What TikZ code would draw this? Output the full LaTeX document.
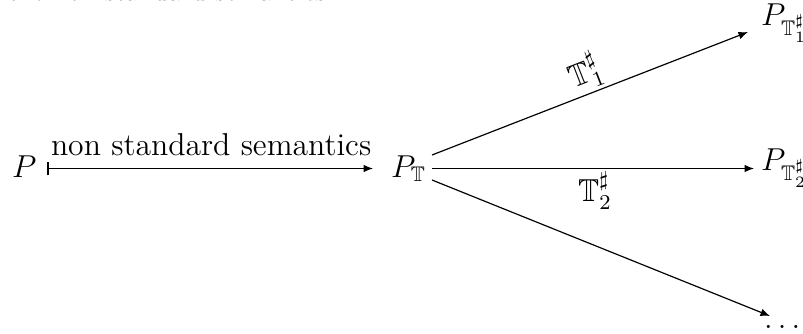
\documentclass[tikz,border=0pt]{standalone}
\usepackage{amssymb}
\usetikzlibrary{arrows.meta}
\begin{document}
\begin{tikzpicture}[x=0.3788pt,y=-0.3788pt,
  font=\large,
  obj/.style={inner sep=0pt, outer sep=0pt, anchor=base west},
  arr/.style={line width=0.45pt, -{Latex[length=3.6pt,width=2.9pt]}},
  maparr/.style={line width=0.45pt, {Bar[width=5.2pt,line width=0.7pt]}-{Latex[length=3.6pt,width=2.9pt]}}]
\useasboundingbox (0,0) rectangle (803,333);
% cut-off text line at the top
\node[obj, font=\normalsize] (top) at (8,0) {the non standard semantics.};
% objects
\node[obj] (P)  at (12,177.5) {$P$};
\node[obj] (PT) at (391,177) {$P_{\mathbb{T}}$};
\node[obj] (P1) at (761,25) {$P_{\mathbb{T}^\sharp_1}$};
\node[obj] (P2) at (761,170) {$P_{\mathbb{T}^\sharp_2}$};
\node[obj] (dots) at (764,328) {$\ldots$};
% connector end points
\coordinate (Ps) at (47,168.5);
\coordinate (PTw) at (373,168.5);
\coordinate (PTa) at (432,155);
\coordinate (PTb) at (432,168.5);
\coordinate (PTc) at (432,180);
\coordinate (P1w) at (748,32);
\coordinate (P2w) at (754,168.5);
\coordinate (Dw) at (770,316);
% connectors
\draw[maparr] (Ps) -- (PTw);
\draw[arr] (PTa) -- (P1w);
\draw[arr] (PTb) -- (P2w);
\draw[arr] (PTc) -- (Dw);
% labels
\node[obj] (lab) at (51,155) {non standard semantics};
\node[inner sep=0pt, rotate=21.3] (l1) at (585,72) {$\mathbb{T}^\sharp_1$};
\node[inner sep=0pt] (l2) at (595,191) {$\mathbb{T}^\sharp_2$};
\end{tikzpicture}
\end{document}
